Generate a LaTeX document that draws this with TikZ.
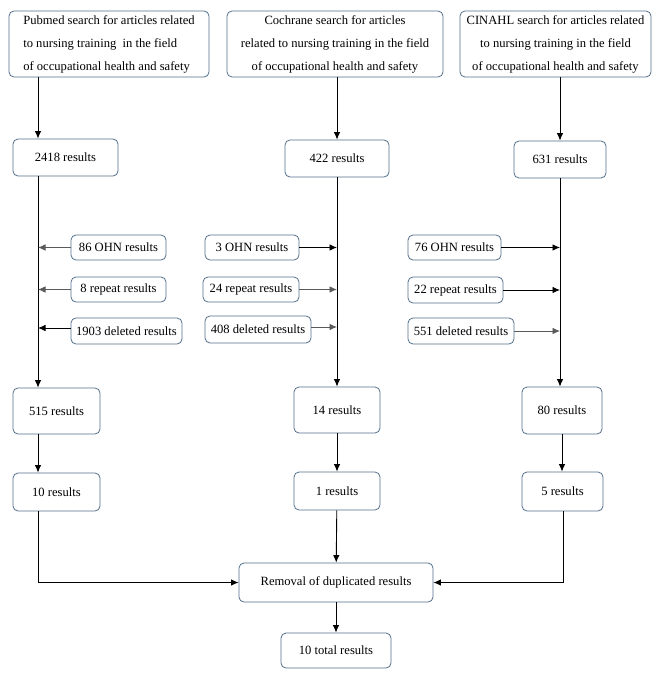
\documentclass[tikz,border=0pt]{standalone}
\usepackage{fontspec}
\setmainfont{Liberation Serif}
\usetikzlibrary{arrows.meta}
\definecolor{boxc}{RGB}{84,112,140}
\definecolor{lgray}{RGB}{90,90,90}
\begin{document}
\begin{tikzpicture}[x=1pt,y=-1pt,
  box/.style={draw=boxc,line width=0.8pt,rounded corners=5pt,inner sep=0pt,fill=white,font=\fontsize{12.6}{23}\selectfont},
  arr/.style={line width=0.9pt,-{Latex[length=7.5pt,width=6.5pt]}},
  ln/.style={line width=0.9pt}]
\fill[white] (0,0) rectangle (666,685);
\useasboundingbox (0,0) rectangle (666,685);
% top boxes
\node[box,minimum width=200,minimum height=66,align=left] (t1) at (109,44) {Pubmed search for articles related\\to nursing training \ in the field\\of occupational health and safety};
\node[box,minimum width=216,minimum height=66,align=center] (t2) at (335,44) {Cochrane search for articles\\related to nursing training in the field\\of occupational health and safety};
\node[box,minimum width=191,minimum height=66,align=center] (t3) at (555.5,44) {CINAHL search for articles related\\to nursing training in the field\\of occupational health and safety};
\path[draw=boxc,line width=0.8pt] (t1.north west) ++(0,0);
% row 2
\node[box,minimum width=105,minimum height=37] (a1) at (65.5,157.5) {2418 results};
\node[box,minimum width=104,minimum height=37] (a2) at (337,158.5) {422 results};
\node[box,minimum width=92,minimum height=37] (a3) at (560,159.5) {631 results};
% row 4
\node[box,minimum width=87,minimum height=46] (b1) at (56.5,411) {515 results};
\node[box,minimum width=86,minimum height=46] (b2) at (337,410) {14 results};
\node[box,minimum width=80,minimum height=47] (b3) at (562,410.5) {80 results};
% row 5
\node[box,minimum width=87,minimum height=38] (c1) at (56.5,492) {10 results};
\node[box,minimum width=86,minimum height=38] (c2) at (337,491) {1 results};
\node[box,minimum width=81,minimum height=39] (c3) at (562.5,491.5) {5 results};
% bottom
\node[box,minimum width=194,minimum height=39] (r) at (336,582.5) {Removal of duplicated results};
\node[box,minimum width=110,minimum height=35] (f) at (336,650.5) {10 total results};
% side boxes
\node[box,minimum width=95,minimum height=25] (l1) at (118.5,247.5) {86 OHN results};
\node[box,minimum width=95,minimum height=25] (l2) at (118.5,289.5) {8 repeat results};
\node[box,minimum width=111,minimum height=26] (l3) at (126.5,331) {1903 deleted results};
\node[box,minimum width=94,minimum height=25] (m1) at (252,247.5) {3 OHN results};
\node[box,minimum width=96,minimum height=25] (m2) at (251,289.5) {24 repeat results};
\node[box,minimum width=106,minimum height=27] (m3) at (258,329.5) {408 deleted results};
\node[box,minimum width=93,minimum height=25] (n1) at (454.5,247.5) {76 OHN results};
\node[box,minimum width=95,minimum height=26] (n2) at (455.5,290) {22 repeat results};
\node[box,minimum width=106,minimum height=26] (n3) at (461,331) {551 deleted results};
% coordinates on vertical lines
\coordinate (v1a) at (38,247.5); \coordinate (v1b) at (38,289.5); \coordinate (v1c) at (38,328);
\coordinate (v2a) at (337,247.5); \coordinate (v2b) at (337,289.5); \coordinate (v2c) at (337,327);
\coordinate (v3a) at (560,247.5); \coordinate (v3b) at (560,290); \coordinate (v3c) at (560,331);
% top arrows
\draw[arr] (38,77) -- (a1.north -| 38,0);
\draw[arr] (337,77) -- (a2.north);
\draw[arr] (560,77) -- (a3.north);
% long verticals
\draw[arr] (a1.south -| 38,0) -- (b1.north -| 38,0);
\draw[arr] (a2.south) -- (b2.north);
\draw[arr] (a3.south) -- (b3.north -| 560,0);
% side arrows
\draw[arr,draw=lgray] (l1.west) -- (v1a);
\draw[arr,draw=lgray] (l2.west) -- (v1b);
\draw[arr] (l3.west |- v1c) -- (v1c);
\draw[arr] (m1.east) -- (v2a);
\draw[arr,draw=lgray] (m2.east) -- (v2b);
\draw[arr,draw=lgray] (m3.east |- v2c) -- (v2c);
\draw[arr] (n1.east) -- (v3a);
\draw[arr] (n2.east) -- (v3b);
\draw[arr,draw=lgray] (n3.east) -- (v3c);
% row4 to row5
\draw[arr] (b1.south -| 38,0) -- (c1.north -| 38,0);
\draw[arr] (b2) -- (c2);
\draw[arr] (b3.south -| 562,0) -- (c3.north -| 562,0);
% to removal
\draw[arr] (c1.south -| 38,0) |- (r.west);
\draw[arr] (c2) -- (r);
\draw[arr] (c3.south -| 563,0) |- (r.east);
\draw[arr] (r) -- (f);
\end{tikzpicture}
\end{document}
